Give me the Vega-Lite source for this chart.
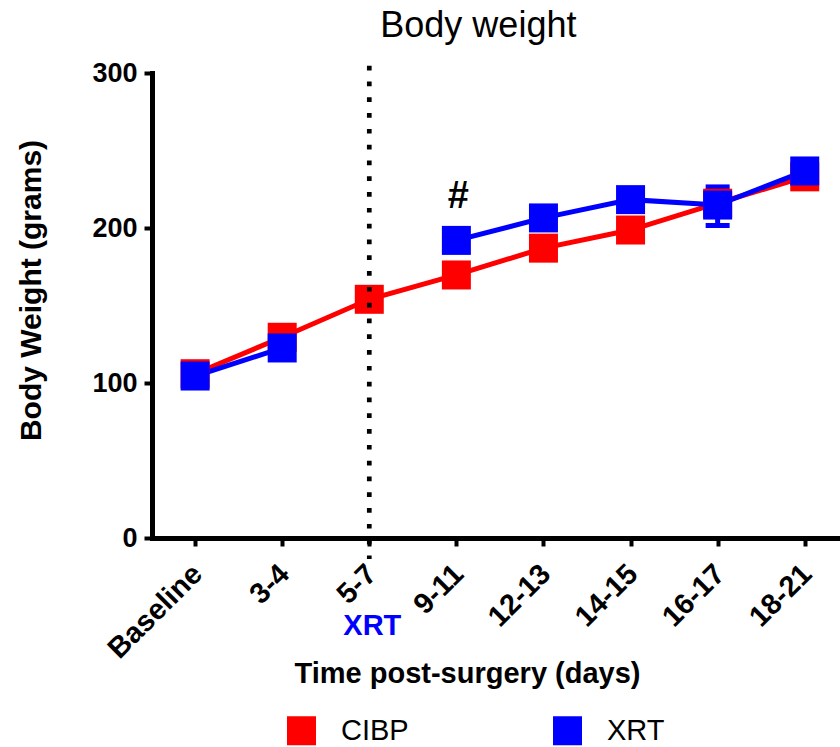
{
  "$schema": "https://vega.github.io/schema/vega-lite/v6.json",
  "width": 688,
  "height": 465,
  "autosize": {"type": "none"},
  "padding": {"left": 152, "top": 73, "right": 0, "bottom": 209},
  "background": "white",
  "config": {
    "view": {"stroke": null},
    "font": "Liberation Sans",
    "axis": {"domainColor": "black", "tickColor": "black", "labelColor": "black", "titleColor": "black", "grid": false, "domainWidth": 5, "tickWidth": 4, "tickSize": 8, "domainCap": "square", "labelFont": "Liberation Sans", "titleFont": "Liberation Sans", "labelFontWeight": "bold", "titleFontWeight": "bold"}
  },
  "datasets": {
    "weights": [
      {"time": "Baseline", "group": "CIBP", "weight": 106},
      {"time": "3-4", "group": "CIBP", "weight": 129.5},
      {"time": "5-7", "group": "CIBP", "weight": 154},
      {"time": "9-11", "group": "CIBP", "weight": 169.7},
      {"time": "12-13", "group": "CIBP", "weight": 187},
      {"time": "14-15", "group": "CIBP", "weight": 198.7},
      {"time": "16-17", "group": "CIBP", "weight": 216},
      {"time": "18-21", "group": "CIBP", "weight": 233},
      {"time": "Baseline", "group": "XRT", "weight": 104.5},
      {"time": "3-4", "group": "XRT", "weight": 122.6},
      {"time": "5-7", "group": "XRT", "weight": null},
      {"time": "9-11", "group": "XRT", "weight": 192},
      {"time": "12-13", "group": "XRT", "weight": 206.5},
      {"time": "14-15", "group": "XRT", "weight": 218.3},
      {"time": "16-17", "group": "XRT", "weight": 214.8},
      {"time": "18-21", "group": "XRT", "weight": 236.8}
    ],
    "errors": [
      {"time": "16-17", "group": "XRT", "lo": 201.6, "hi": 226.5}
    ]
  },
  "layer": [
    {
      "data": {"name": "weights"},
      "mark": {"type": "line", "strokeWidth": 5, "invalid": "break-paths-show-domains"},
      "encoding": {
        "x": {"field": "time", "type": "nominal",
          "scale": {"type": "point", "domain": ["Baseline", "3-4", "5-7", "9-11", "12-13", "14-15", "16-17", "18-21"], "padding": 0.45, "align": 0.55},
          "axis": {"title": "Time post-surgery (days)", "titleFontSize": 29, "titleX": 315, "titleY": 121, "titleBaseline": "top", "labelAngle": -45, "labelFontSize": 29, "labelPadding": 13, "labelOffset": -8}},
        "y": {"field": "weight", "type": "quantitative",
          "scale": {"domain": [0, 300], "nice": false, "zero": true},
          "axis": {"values": [0, 100, 200, 300], "title": "Body Weight (grams)", "titleFontSize": 30, "titleX": -121, "titleY": 217, "titleBaseline": "middle", "labelFontSize": 27, "labelPadding": 7}},
        "color": {"field": "group", "type": "nominal",
          "scale": {"domain": ["CIBP", "XRT"], "range": ["#FF0000", "#0000FF"]},
          "legend": {"orient": "none", "legendX": 135, "legendY": 643, "direction": "horizontal", "title": null, "symbolType": "square", "symbolSize": 841, "symbolStrokeWidth": 0, "symbolOpacity": 1, "labelFontSize": 29, "labelFont": "Liberation Sans", "labelColor": "black", "labelOffset": 25, "columnPadding": 144, "padding": 0,
            "encode": {"symbols": {"update": {"fill": {"scale": "color", "field": "value"}, "opacity": {"value": 1}}}}}}
      }
    },
    {
      "data": {"name": "errors"},
      "mark": {"type": "errorbar", "ticks": {"opacity": 1, "color": "#0000FF"}, "rule": {"opacity": 1, "color": "#0000FF"}, "size": 24, "thickness": 5},
      "encoding": {
        "x": {"field": "time", "type": "nominal"},
        "y": {"field": "lo", "type": "quantitative", "title": "Body Weight (grams)"},
        "y2": {"field": "hi"}
      }
    },
    {
      "data": {"name": "weights"},
      "mark": {"type": "point", "shape": "square", "size": 841, "filled": true, "opacity": 1},
      "encoding": {
        "x": {"field": "time", "type": "nominal"},
        "y": {"field": "weight", "type": "quantitative"},
        "color": {"field": "group", "type": "nominal"}
      }
    },
    {
      "data": {"values": [{}]},
      "mark": {"type": "rule", "color": "black", "strokeWidth": 4.7, "strokeDash": [4.7, 11.1], "strokeCap": "butt", "clip": false},
      "encoding": {
        "x": {"datum": "5-7"},
        "y": {"datum": 304.7},
        "y2": {"datum": -13.5}
      }
    },
    {
      "data": {"values": [{}]},
      "mark": {"type": "text", "text": "#", "font": "Liberation Sans", "fontSize": 38, "fontWeight": "bold", "color": "black", "baseline": "middle", "align": "center", "dx": 2},
      "encoding": {
        "x": {"datum": "9-11"},
        "y": {"datum": 220}
      }
    },
    {
      "data": {"values": [{}]},
      "mark": {"type": "text", "text": "XRT", "font": "Liberation Sans", "fontSize": 29, "fontWeight": "bold", "color": "#0000FF", "baseline": "middle", "align": "center", "dx": 3, "clip": false},
      "encoding": {
        "x": {"datum": "5-7"},
        "y": {"datum": -57}
      }
    },
    {
      "data": {"values": [{}]},
      "mark": {"type": "text", "text": "Body weight", "font": "Liberation Sans", "fontSize": 36, "fontWeight": "normal", "color": "black", "baseline": "alphabetic", "align": "center", "dx": 22, "clip": false},
      "encoding": {
        "x": {"datum": "9-11"},
        "y": {"datum": 323.2}
      }
    }
  ]
}
